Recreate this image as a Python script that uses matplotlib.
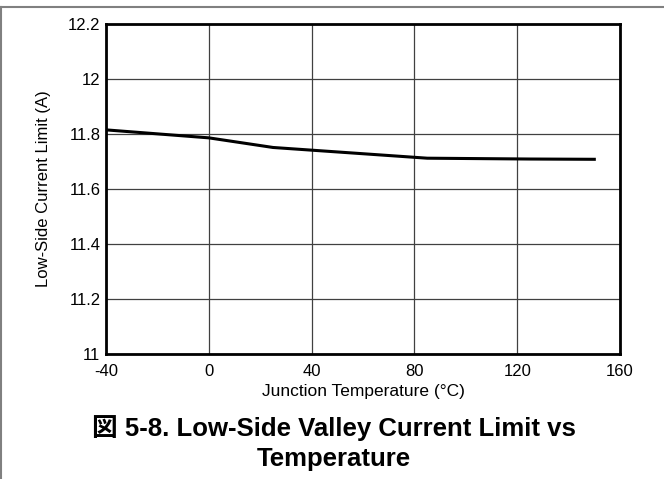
import matplotlib.pyplot as plt
from matplotlib.lines import Line2D

plt.rcParams['font.family'] = ['Liberation Sans', 'Noto Sans CJK JP', 'DejaVu Sans']
plt.rcParams['axes.unicode_minus'] = False

temp_c = [-40, 0, 25, 85, 125, 150]
current_a = [11.815, 11.786, 11.751, 11.712, 11.709, 11.708]

x_ticks = [-40, 0, 40, 80, 120, 160]
y_ticks = [11, 11.2, 11.4, 11.6, 11.8, 12, 12.2]
y_tick_labels = ['11', '11.2', '11.4', '11.6', '11.8', '12', '12.2']

fig = plt.figure(figsize=(6.64, 4.79), dpi=100)
ax = fig.add_axes([106 / 664, 1 - 354 / 479, 514 / 664, 330 / 479])

ax.plot(temp_c, current_a, color='black', lw=2.2, solid_joinstyle='round')

ax.set_xlim(-40, 160)
ax.set_ylim(11, 12.2)
ax.set_xticks(x_ticks)
ax.set_yticks(y_ticks)
ax.set_yticklabels(y_tick_labels)
ax.tick_params(length=0, labelsize=12)
ax.tick_params(axis='x', pad=7)
ax.tick_params(axis='y', pad=4)
ax.grid(True, color='#404040', lw=0.9)
for s in ax.spines.values():
    s.set_linewidth(2)

ax.set_xlabel('Junction Temperature (°C)', fontsize=12.5, labelpad=4)
ax.set_ylabel('Low-Side Current Limit (A)', fontsize=12, labelpad=12)

fig.text(334 / 664, 1 - 428 / 479, '図 5-8. Low-Side Valley Current Limit vs',
         ha='center', va='center', fontsize=18.5, fontweight='bold')
fig.text(334 / 664, 1 - 459 / 479, 'Temperature',
         ha='center', va='center', fontsize=18.5, fontweight='bold')

# page border
fig.add_artist(Line2D([0, 1], [1 - 7 / 479] * 2, color='#808080', lw=1.5,
                      transform=fig.transFigure))
fig.add_artist(Line2D([1 / 664] * 2, [0, 1 - 7 / 479], color='#808080', lw=1.5,
                      transform=fig.transFigure))

fig.savefig('out.png', dpi=100)
